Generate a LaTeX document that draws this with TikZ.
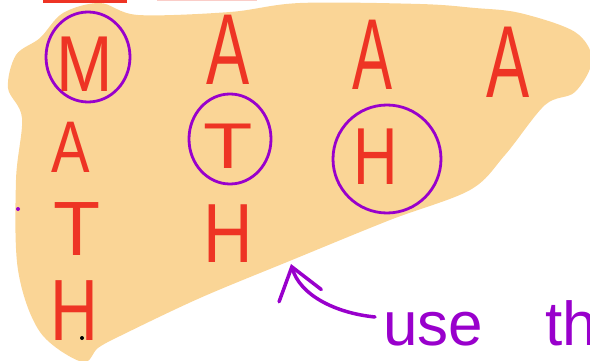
\documentclass[tikz,border=0pt]{standalone}
\usepackage{fontspec}
\setmainfont{Liberation Sans}
\usetikzlibrary{arrows.meta}
\definecolor{peach}{RGB}{250,213,150}
\definecolor{inkred}{RGB}{238,52,36}
\definecolor{inkpurple}{RGB}{153,0,204}
\definecolor{barpink}{RGB}{250,205,200}
\newcommand\lettr[3]{\scalebox{#1}[#2]{#3}}
\tikzset{
  letter/.style={text=inkred, font=\fontsize{77}{77}\selectfont, anchor=base, inner sep=0pt},
  ring/.style={draw=inkpurple, line width=2.8pt},
  note/.style={text=inkpurple, font=\fontsize{62}{62}\selectfont, anchor=base west, inner sep=0pt},
  pointer/.style={draw=inkpurple, line width=3.5pt, line cap=round, line join=round,
    -{Straight Barb[length=30pt,width=44pt,line cap=round]}}
}
\begin{document}
\begin{tikzpicture}[x=1pt,y=-1pt]
\useasboundingbox (0,0) rectangle (590,361);
\clip (0,0) rectangle (590,361);
% top bars
\fill[inkred] (43,0) rectangle (127,3);
\fill[barpink] (157,0) rectangle (257,1.5);
% peach blob
\fill[peach] plot[smooth cycle, tension=0.55] coordinates {
 (63,13) (100,3) (138,15) (230,12) (300,3) (420,4) (475,8) (520,13)
 (575,32) (592,60) (575,92) (545,105) (505,155) (470,190) (390,220)
 (292,260) (200,298) (120,336) (98,348) (82,362) (40,332) (18,270)
 (16,180) (22,118) (8,88) (16,55) (40,38)};
% circles
\draw[ring] (88,57) ellipse[x radius=42, y radius=45];
\draw[ring] (230,139) ellipse[x radius=41, y radius=45];
\draw[ring] (387,159) ellipse[x radius=54, y radius=54];
% letters
\node[letter] (m1) at (85,92) {\lettr{0.88}{1.03}{M}};
\node[letter] (a1) at (228,85) {\lettr{0.84}{1.31}{A}};
\node[letter] (a2) at (373,90) {\lettr{0.78}{1.31}{A}};
\node[letter] (a3) at (508,98) {\lettr{0.84}{1.33}{A}};
\node[letter] (a4) at (71,172) {\lettr{0.75}{0.95}{A}};
\node[letter] (t1) at (228,168) {\lettr{1.05}{0.84}{T}};
\node[letter] (h1) at (376,185) {\lettr{0.8}{1.05}{H}};
\node[letter] (t2) at (77,255) {\lettr{1.0}{1.0}{T}};
\node[letter] (h2) at (228,262) {\lettr{0.89}{1.09}{H}};
\node[letter] (h3) at (74,340) {\lettr{0.86}{1.13}{H}};
% dots
\fill[inkpurple] (18,209) circle (2);
\fill[black] (82,338) circle (2);
% note and arrow
\node[note] (use) at (383,345) {use\hspace{62pt}th};
\coordinate (tip) at (291,264);
\coordinate (tail) at (375,317);
\draw[pointer] (tail) .. controls (335,313) and (300,295) .. (tip);
\end{tikzpicture}
\end{document}
